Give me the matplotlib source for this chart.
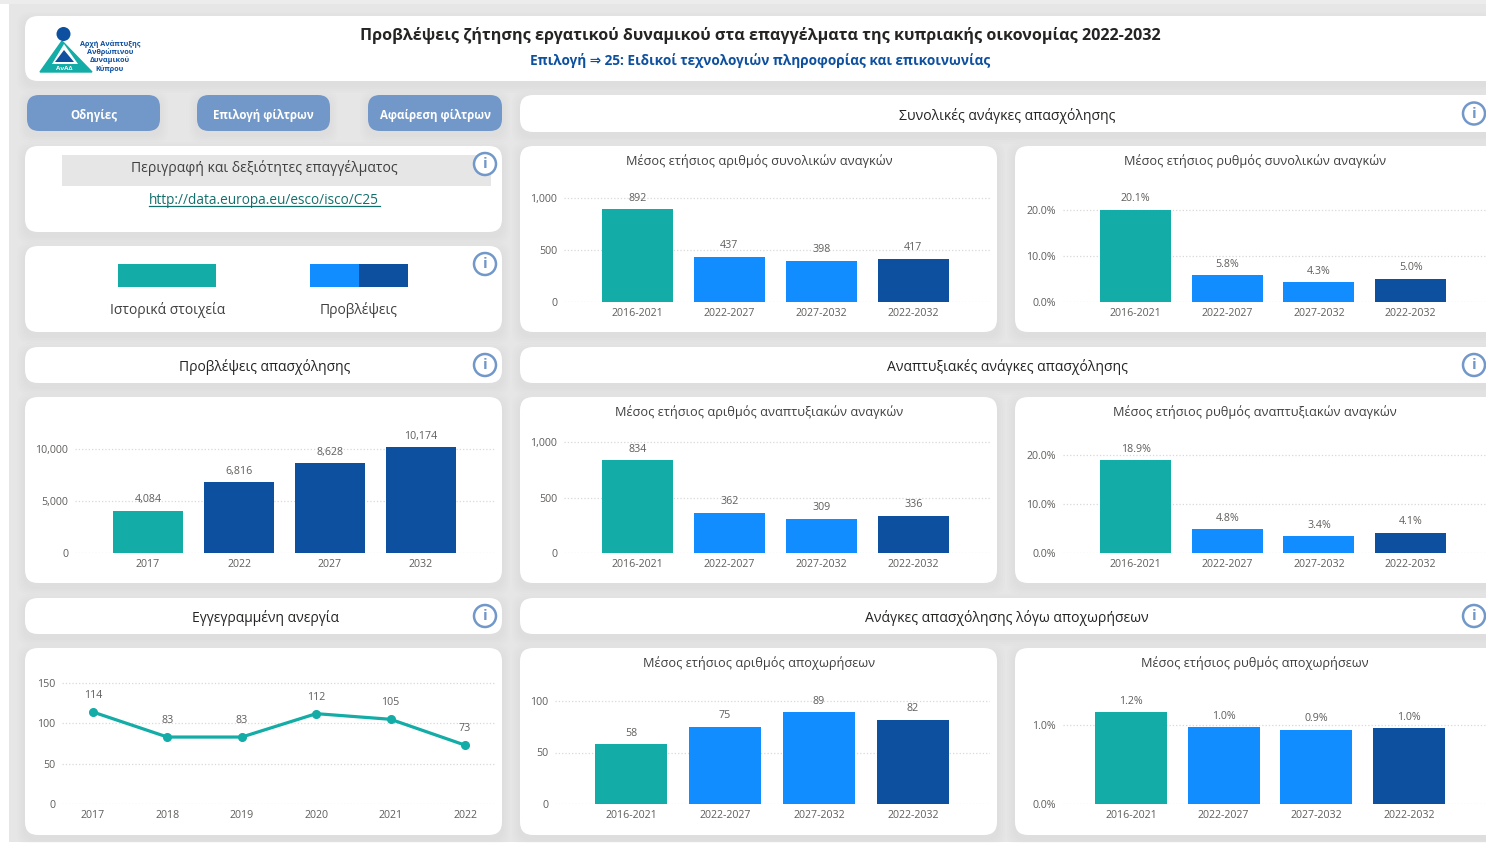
import matplotlib
matplotlib.use("Agg")
import matplotlib.pyplot as plt
from matplotlib.patches import FancyBboxPatch, Rectangle, Circle, Polygon

plt.rcParams['font.family'] = ['Open Sans', 'DejaVu Sans']

# data
periods = ['2016-2021', '2022-2027', '2027-2032', '2022-2032']
total_num = [892, 437, 398, 417]
total_rate = [20.1, 5.8, 4.3, 5.0]
dev_num = [834, 362, 309, 336]
dev_rate = [18.9, 4.8, 3.4, 4.1]
ret_num = [58, 75, 89, 82]
ret_rate = [1.16, 0.97, 0.94, 0.96]
proj_years = ['2017', '2022', '2027', '2032']
proj_vals = [4084, 6816, 8628, 10174]
unemp_years = ['2017', '2018', '2019', '2020', '2021', '2022']
unemp_vals = [114, 83, 83, 112, 105, 73]

TEAL = '#13aca6'
BLUE = '#118dff'
DARK = '#0d50a0'
BTN = '#7297c9'
W, H = 1486, 843

fig = plt.figure(figsize=(W / 100, H / 100), dpi=100, facecolor='white')
bg = fig.add_axes([0, 0, 1, 1])
bg.set_xlim(0, W)
bg.set_ylim(H, 0)
bg.axis('off')

bg.add_patch(Rectangle((0, 0), W, 4, fc='#ececec', ec='none'))
bg.add_patch(Rectangle((9, 4), W, 838, fc='#e6e6e6', ec='none'))


def card(x0, y0, x1, y1, fc='white', r=13):
    # soft shadow first
    for grow in [8, 6, 4, 2]:
        bg.add_patch(FancyBboxPatch((x0 + r - grow, y0 + r - grow + 4),
                                    x1 - x0 - 2 * r + 2 * grow, y1 - y0 - 2 * r + 2 * grow,
                                    boxstyle='round,pad=%d,rounding_size=%d' % (r, r),
                                    fc='black', ec='none', alpha=0.008))
    bg.add_patch(FancyBboxPatch((x0 + r, y0 + r), x1 - x0 - 2 * r, y1 - y0 - 2 * r,
                                boxstyle='round,pad=%d,rounding_size=%d' % (r, r),
                                fc=fc, ec='none'))


def info(x, y):
    bg.add_patch(Circle((x, y), 11, fc='white', ec=BTN, lw=1.8))
    bg.text(x, y, 'i', ha='center', va='center', fontsize=11, color=BTN, fontweight='bold')


def bars(title, tx, cats, vals, colors, left, right, c0, step, bw, y0, ytop, vtop, ticks, fmt, tickfmt):
    # axes placed in pixels, y0 is the baseline and ytop the pixel of value vtop
    ytitle = y0 - 142
    bottom_px = y0
    top_px = ytop - 25
    ax = fig.add_axes([left / W, 1 - bottom_px / H, (right - left) / W, (bottom_px - top_px) / H])
    ax.patch.set_alpha(0)
    ax.set_xlim((left - c0) / step, (right - c0) / step)
    ax.set_ylim(0, vtop * (bottom_px - top_px) / (y0 - ytop))
    xs = list(range(len(vals)))
    ax.bar(xs, vals, width=bw / step, color=colors, zorder=3)
    for x, v in zip(xs, vals):
        ax.annotate(fmt(v), (x, v), xytext=(0, 4), textcoords='offset points', ha='center',
                    va='bottom', fontsize=7.7, color='#605e5c', zorder=4)
    ax.set_xticks(xs)
    ax.set_xticklabels(cats, fontsize=7.7, color='#605e5c')
    ax.set_yticks(ticks)
    ax.set_yticklabels([tickfmt(t) for t in ticks], fontsize=7.7, color='#605e5c')
    ax.tick_params(length=0, pad=5)
    ax.tick_params(axis='x', pad=4)
    ax.grid(axis='y', color='#d8d8d8', linestyle=':', linewidth=0.9, zorder=0)
    for s in ax.spines.values():
        s.set_visible(False)
    if title:
        bg.text(tx, ytitle + 1, title, ha='center', va='center', fontsize=9.2, color='#404040')


# header
card(25, 16, 1520, 81)
bg.text(760, 35, 'Προβλέψεις ζήτησης εργατικού δυναμικού στα επαγγέλματα της κυπριακής οικονομίας 2022-2032',
        ha='center', va='center', fontsize=11.65, fontweight='bold', color='#252423')
bg.text(760, 61, 'Επιλογή ⇒ 25: Ειδικοί τεχνολογιών πληροφορίας και επικοινωνίας',
        ha='center', va='center', fontsize=9.8, fontweight='bold', color=DARK)

# logo
bg.add_patch(Polygon([(40, 72), (62, 41), (92, 72)], closed=True, fc=TEAL, ec=TEAL, lw=1))
bg.add_patch(Polygon([(52, 64), (64, 44), (78, 64)], closed=True, fc='white', ec='none'))
bg.add_patch(Polygon([(55, 62), (64, 50), (74, 62)], closed=True, fc=DARK, ec='none'))
bg.add_patch(Circle((63.5, 34), 7, fc=DARK, ec='none'))
bg.text(64, 68, 'ΑνΑΔ', ha='center', va='center', fontsize=4.5, color='white', fontweight='bold')
for ty, t in zip([44, 52, 60, 69], ['Αρχή Ανάπτυξης', 'Ανθρώπινου', 'Δυναμικού', 'Κύπρου']):
    bg.text(110, ty, t, ha='center', va='center', fontsize=5.2, color=DARK, fontweight='bold')

# buttons
for x0, x1, t in [(27, 160, 'Οδηγίες'), (197, 330, 'Επιλογή φίλτρων'), (368, 502, 'Αφαίρεση φίλτρων')]:
    card(x0, 95, x1, 131, fc=BTN, r=12)
    bg.text((x0 + x1) / 2, 115, t, ha='center', va='center', fontsize=8.3, fontweight='bold', color='white')

# left column
card(25, 146, 502, 232)
bg.add_patch(Rectangle((62, 155), 429, 31, fc='#e6e6e6', ec='none'))
bg.text(264, 168, 'Περιγραφή και δεξιότητες επαγγέλματος', ha='center', va='center', fontsize=10.1, color='#404040')
bg.text(264, 200, 'http://data.europa.eu/esco/isco/C25', ha='center', va='center', fontsize=9.8, color='#12706c')
bg.plot([149, 380], [206, 206], color='#12706c', lw=0.9)
info(485, 164)

card(25, 246, 502, 332)
bg.add_patch(Rectangle((118, 264), 98, 23, fc=TEAL, ec='none'))
bg.add_patch(Rectangle((310, 264), 49, 23, fc=BLUE, ec='none'))
bg.add_patch(Rectangle((359, 264), 49, 23, fc=DARK, ec='none'))
bg.text(168, 310, 'Ιστορικά στοιχεία', ha='center', va='center', fontsize=10, color='#404040')
bg.text(359, 310, 'Προβλέψεις', ha='center', va='center', fontsize=10, color='#404040')
info(485, 264)

for y0, y1, t in [(347, 383, 'Προβλέψεις απασχόλησης'), (598, 634, 'Εγγεγραμμένη ανεργία')]:
    card(25, y0, 502, y1)
    bg.text(265, (y0 + y1) / 2 + 2, t, ha='center', va='center', fontsize=10, color='#252423')
    info(485, (y0 + y1) / 2)
card(25, 397, 502, 583)
card(25, 648, 502, 835)

# right column
for y0, y1, t in [(95, 132, 'Συνολικές ανάγκες απασχόλησης'),
                  (347, 383, 'Αναπτυξιακές ανάγκες απασχόλησης'),
                  (598, 634, 'Ανάγκες απασχόλησης λόγω αποχωρήσεων')]:
    card(520, y0, 1520, y1)
    bg.text(1007, (y0 + y1) / 2 + 2, t, ha='center', va='center', fontsize=10.1, color='#252423')
    info(1474, (y0 + y1) / 2)
for y0, y1 in [(146, 332), (397, 583), (648, 835)]:
    card(520, y0, 997, y1)
    card(1015, y0, 1520, y1)

cols4 = [TEAL, BLUE, BLUE, DARK]
num = lambda v: f'{v:,.0f}'
pct = lambda v: f'{v:.1f}%'

bars('Μέσος ετήσιος αριθμός συνολικών αναγκών', 759, periods, total_num, cols4, 564, 990, 637.5, 92, 71,
     302, 198, 1000, [0, 500, 1000], num, num)
bars('Μέσος ετήσιος ρυθμός συνολικών αναγκών', 1255, periods, total_rate, cols4, 1063, 1486, 1135.5, 91.7, 71,
     302, 210, 20, [0, 10, 20], pct, pct)
bars('Μέσος ετήσιος αριθμός αναπτυξιακών αναγκών', 759, periods, dev_num, cols4, 564, 990, 637.5, 92, 71,
     553, 442, 1000, [0, 500, 1000], num, num)
bars('Μέσος ετήσιος ρυθμός αναπτυξιακών αναγκών', 1255, periods, dev_rate, cols4, 1063, 1486, 1135.5, 91.7, 71,
     553, 455, 20, [0, 10, 20], pct, pct)
bars('Μέσος ετήσιος αριθμός αποχωρήσεων', 759, periods, ret_num, cols4, 555, 990, 631, 94, 72,
     804, 701, 100, [0, 50, 100], num, num)
bars('Μέσος ετήσιος ρυθμός αποχωρήσεων', 1255, periods, ret_rate, cols4, 1063, 1486, 1131, 92.7, 72,
     804, 725, 1, [0, 1], pct, pct)
bars(None, 0, proj_years, proj_vals, [TEAL, DARK, DARK, DARK], 75, 495, 148, 91, 70,
     553, 449, 10000, [0, 5000, 10000], num, num)

# unemployment line
ax = fig.add_axes([62 / W, 1 - 804 / H, (495 - 62) / W, (804 - 665) / H])
ax.patch.set_alpha(0)
ax.set_xlim((62 - 93) / 74.4, (495 - 93) / 74.4)
ax.set_ylim(0, 150 * (804 - 665) / (804 - 683))
xs = list(range(len(unemp_vals)))
ax.plot(xs, unemp_vals, color=TEAL, lw=2.3, marker='o', ms=5.5, zorder=3)
for x, v in zip(xs, unemp_vals):
    ax.annotate(str(v), (x, v), xytext=(0, 8), textcoords='offset points', ha='center',
                va='bottom', fontsize=7.7, color='#605e5c')
ax.set_xticks(xs)
ax.set_xticklabels(unemp_years, fontsize=7.7, color='#605e5c')
ax.set_yticks([0, 50, 100, 150])
ax.set_yticklabels(['0', '50', '100', '150'], fontsize=7.7, color='#605e5c')
ax.tick_params(length=0, pad=5)
ax.tick_params(axis='x', pad=4)
ax.grid(axis='y', color='#d8d8d8', linestyle=':', linewidth=0.9, zorder=0)
for s in ax.spines.values():
    s.set_visible(False)

fig.savefig('out.png', dpi=100)
